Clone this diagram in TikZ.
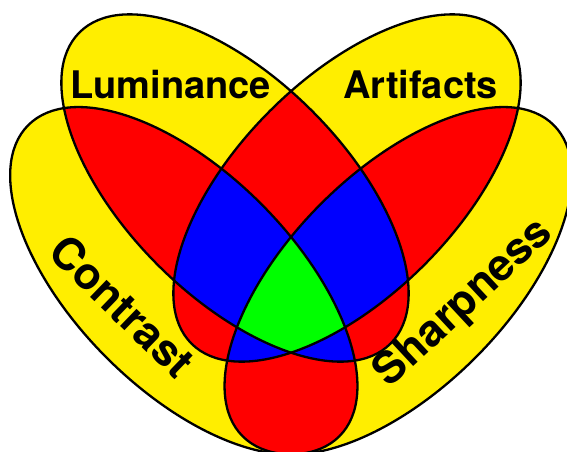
\documentclass[tikz,border=0pt]{standalone}
\usepackage{fontspec}
\setmainfont{TeX Gyre Heros}
\definecolor{vyellow}{RGB}{255,238,0}
\definecolor{vred}{RGB}{255,0,0}
\definecolor{vblue}{RGB}{0,0,255}
\definecolor{vgreen}{RGB}{0,255,0}
\tikzset{
  eL/.style={shift={(235,-188)},rotate=-45},
  eA/.style={shift={(347,-188)},rotate=45},
  eC/.style={shift={(183.8,-280.7)},rotate=-45},
  eS/.style={shift={(398.2,-280.7)},rotate=45},
  outline/.style={draw=black,line width=2.3pt},
  biglabel/.style={font=\fontsize{38}{40}\selectfont\bfseries,inner sep=0pt},
  sidelabel/.style={font=\fontsize{44}{46}\selectfont\bfseries,inner sep=0pt}
}
\def\EE{(0,0) ellipse [x radius=220, y radius=109]}
\begin{document}
\begin{tikzpicture}[x=1pt,y=1pt]
\useasboundingbox (0,0) rectangle (567,-451);
\fill[white] (0,0) rectangle (567,-451);
\clip (0,0) rectangle (567,-451);
% single sets
\foreach \e in {eL,eA,eC,eS} { \fill[vyellow,\e] \EE; }
% pairs
\begin{scope}\clip[eL] \EE; \fill[vred,eA] \EE; \fill[vred,eC] \EE; \fill[vred,eS] \EE;\end{scope}
\begin{scope}\clip[eA] \EE; \fill[vred,eC] \EE; \fill[vred,eS] \EE;\end{scope}
\begin{scope}\clip[eC] \EE; \fill[vred,eS] \EE;\end{scope}
% triples
\begin{scope}\clip[eL] \EE; \clip[eA] \EE; \fill[vblue,eC] \EE; \fill[vblue,eS] \EE;\end{scope}
\begin{scope}\clip[eC] \EE; \clip[eS] \EE; \fill[vblue,eL] \EE; \fill[vblue,eA] \EE;\end{scope}
% all four
\begin{scope}\clip[eL] \EE; \clip[eA] \EE; \clip[eC] \EE; \fill[vgreen,eS] \EE;\end{scope}
% outlines
\foreach \e in {eL,eA,eC,eS} { \draw[outline,\e] \EE; }
% labels
\node[biglabel,anchor=base] (lum) at (170.8,-98.3) {Luminance};
\node[biglabel,anchor=base] (art) at (420.5,-98) {Artifacts};
\node[sidelabel,rotate=-44] (con) at (122.5,-306) {Contrast};
\node[sidelabel,rotate=43] (sha) at (464.4,-303.7) {Sharpness};
\end{tikzpicture}
\end{document}
